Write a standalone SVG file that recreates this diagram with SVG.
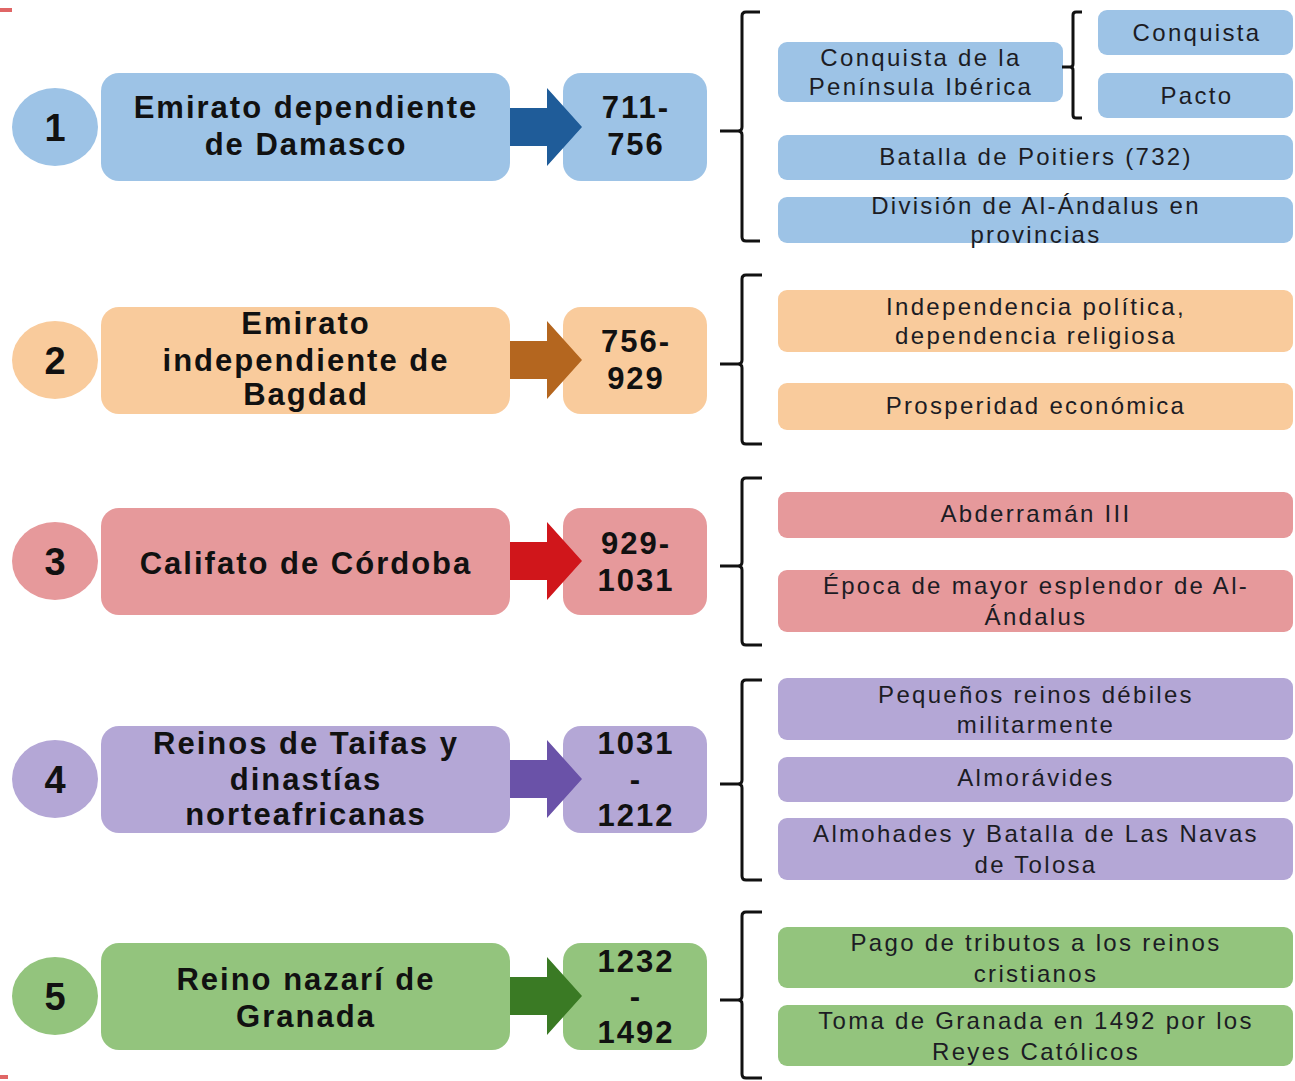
<svg xmlns="http://www.w3.org/2000/svg" width="1295" height="1081" viewBox="0 0 1295 1081">
<style>
.main{font-family:"Liberation Sans",Arial,sans-serif;font-weight:bold;font-size:31px;letter-spacing:2px;fill:#111;text-anchor:middle}
.num{font-family:"Liberation Sans",Arial,sans-serif;font-weight:bold;font-size:38px;fill:#111;text-anchor:middle}
.sub{font-family:"Liberation Sans",Arial,sans-serif;font-size:24px;letter-spacing:2.3px;fill:#1c1c24;text-anchor:middle}
.br{fill:none;stroke:#111;stroke-width:3}
.c1{fill:#9dc3e6}.c2{fill:#f9cb9c}.c3{fill:#e6999b}.c4{fill:#b4a7d6}.c5{fill:#93c47d}
</style>
<rect x="0" y="8" width="12" height="4" fill="#e06666"/>
<rect x="0" y="1075" width="8" height="4" fill="#e06666"/>

<g id="row1">
<ellipse class="c1" cx="55" cy="127" rx="43" ry="39"/>
<text class="num" x="55" y="141">1</text>
<rect class="c1" x="101" y="73" width="409" height="108" rx="18"/>
<text class="main" x="306" y="118">Emirato dependiente</text>
<text class="main" x="306" y="155">de Damasco</text>
<rect class="c1" x="563" y="73" width="144" height="108" rx="18"/>
<text class="main" x="636" y="118">711-</text>
<text class="main" x="636" y="155">756</text>
</g>
<g id="row1-details">
<rect class="c1" x="778" y="42" width="285" height="60" rx="9"/>
<text class="sub" x="921" y="66">Conquista de la</text>
<text class="sub" x="921" y="95">Península Ibérica</text>
<rect class="c1" x="1098" y="10" width="195" height="45" rx="9"/>
<text class="sub" x="1197" y="41">Conquista</text>
<rect class="c1" x="1098" y="73" width="195" height="45" rx="9"/>
<text class="sub" x="1197" y="104">Pacto</text>
<rect class="c1" x="778" y="135" width="515" height="45" rx="9"/>
<text class="sub" x="1036" y="165">Batalla de Poitiers (732)</text>
<rect class="c1" x="778" y="197" width="515" height="46" rx="9"/>
<text class="sub" x="1036" y="214">División de Al-Ándalus en</text>
<text class="sub" x="1036" y="243">provincias</text>
</g>

<g id="row2">
<ellipse class="c2" cx="55" cy="360" rx="43" ry="39"/>
<text class="num" x="55" y="374">2</text>
<rect class="c2" x="101" y="307" width="409" height="107" rx="18"/>
<text class="main" x="306" y="334">Emirato</text>
<text class="main" x="306" y="371">independiente de</text>
<text class="main" x="306" y="405">Bagdad</text>
<rect class="c2" x="563" y="307" width="144" height="107" rx="18"/>
<text class="main" x="636" y="352">756-</text>
<text class="main" x="636" y="389">929</text>
</g>
<g id="row2-details">
<rect class="c2" x="778" y="290" width="515" height="62" rx="9"/>
<text class="sub" x="1036" y="315">Independencia política,</text>
<text class="sub" x="1036" y="344">dependencia religiosa</text>
<rect class="c2" x="778" y="383" width="515" height="47" rx="9"/>
<text class="sub" x="1036" y="414">Prosperidad económica</text>
</g>

<g id="row3">
<ellipse class="c3" cx="55" cy="561" rx="43" ry="39"/>
<text class="num" x="55" y="575">3</text>
<rect class="c3" x="101" y="508" width="409" height="107" rx="18"/>
<text class="main" x="306" y="574">Califato de Córdoba</text>
<rect class="c3" x="563" y="508" width="144" height="107" rx="18"/>
<text class="main" x="636" y="554">929-</text>
<text class="main" x="636" y="591">1031</text>
</g>
<g id="row3-details">
<rect class="c3" x="778" y="492" width="515" height="46" rx="9"/>
<text class="sub" x="1036" y="522">Abderramán III</text>
<rect class="c3" x="778" y="570" width="515" height="62" rx="9"/>
<text class="sub" x="1036" y="594">Época de mayor esplendor de Al-</text>
<text class="sub" x="1036" y="625">Ándalus</text>
</g>

<g id="row4">
<ellipse class="c4" cx="55" cy="779" rx="43" ry="39"/>
<text class="num" x="55" y="793">4</text>
<rect class="c4" x="101" y="726" width="409" height="107" rx="18"/>
<text class="main" x="306" y="754">Reinos de Taifas y</text>
<text class="main" x="306" y="790">dinastías</text>
<text class="main" x="306" y="825">norteafricanas</text>
<rect class="c4" x="563" y="726" width="144" height="107" rx="18"/>
<text class="main" x="636" y="754">1031</text>
<text class="main" x="636" y="790">-</text>
<text class="main" x="636" y="826">1212</text>
</g>
<g id="row4-details">
<rect class="c4" x="778" y="678" width="515" height="62" rx="9"/>
<text class="sub" x="1036" y="703">Pequeños reinos débiles</text>
<text class="sub" x="1036" y="733">militarmente</text>
<rect class="c4" x="778" y="757" width="515" height="45" rx="9"/>
<text class="sub" x="1036" y="786">Almorávides</text>
<rect class="c4" x="778" y="818" width="515" height="62" rx="9"/>
<text class="sub" x="1036" y="842">Almohades y Batalla de Las Navas</text>
<text class="sub" x="1036" y="873">de Tolosa</text>
</g>

<g id="row5">
<ellipse class="c5" cx="55" cy="996" rx="43" ry="39"/>
<text class="num" x="55" y="1010">5</text>
<rect class="c5" x="101" y="943" width="409" height="107" rx="18"/>
<text class="main" x="306" y="990">Reino nazarí de</text>
<text class="main" x="306" y="1027">Granada</text>
<rect class="c5" x="563" y="943" width="144" height="107" rx="18"/>
<text class="main" x="636" y="972">1232</text>
<text class="main" x="636" y="1007">-</text>
<text class="main" x="636" y="1043">1492</text>
</g>
<g id="row5-details">
<rect class="c5" x="778" y="927" width="515" height="61" rx="9"/>
<text class="sub" x="1036" y="951">Pago de tributos a los reinos</text>
<text class="sub" x="1036" y="982">cristianos</text>
<rect class="c5" x="778" y="1005" width="515" height="61" rx="9"/>
<text class="sub" x="1036" y="1029">Toma de Granada en 1492 por los</text>
<text class="sub" x="1036" y="1060">Reyes Católicos</text>
</g>

<g id="connectors">
<path fill="#1f5c99" d="M510 108 H547 V88 L582 127 L547 166 V146 H510 Z"/>
<path fill="#b4661f" d="M510 341 H547 V321 L582 360 L547 399 V379 H510 Z"/>
<path fill="#d0161b" d="M510 542 H547 V522 L582 561 L547 600 V580 H510 Z"/>
<path fill="#6a52a8" d="M510 760 H547 V740 L582 779 L547 818 V798 H510 Z"/>
<path fill="#3a7a24" d="M510 977 H547 V957 L582 996 L547 1035 V1015 H510 Z"/>
<path class="br" d="M760 12 H746 Q742 12 742 16 V127 Q742 131 738 131 H720 M738 131 Q742 131 742 135 V237 Q742 241 746 241 H760"/>
<path class="br" d="M1082 12 H1076 Q1073 12 1073 15 V64 Q1073 67 1070 67 H1062 M1070 67 Q1073 67 1073 70 V115 Q1073 118 1076 118 H1082"/>
<path class="br" d="M762 275 H746 Q742 275 742 279 V360 Q742 364 738 364 H720 M738 364 Q742 364 742 368 V440 Q742 444 746 444 H762"/>
<path class="br" d="M762 478 H746 Q742 478 742 482 V562 Q742 566 738 566 H720 M738 566 Q742 566 742 570 V641 Q742 645 746 645 H762"/>
<path class="br" d="M762 680 H746 Q742 680 742 684 V780 Q742 784 738 784 H720 M738 784 Q742 784 742 788 V876 Q742 880 746 880 H762"/>
<path class="br" d="M762 912 H746 Q742 912 742 916 V996 Q742 1000 738 1000 H720 M738 1000 Q742 1000 742 1004 V1074 Q742 1078 746 1078 H762"/>
</g>
</svg>
